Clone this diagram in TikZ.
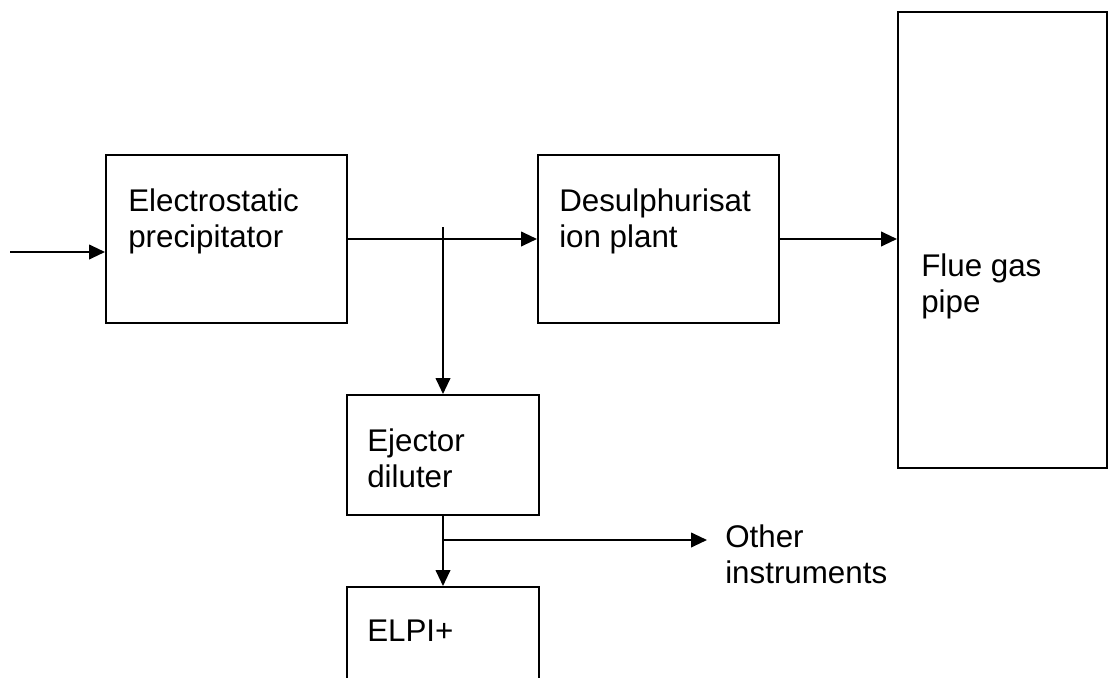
\documentclass[tikz,border=0pt]{standalone}
\usepackage{fontspec}
\setmainfont{Liberation Sans}
\usetikzlibrary{arrows.meta,positioning}
\tikzset{
     unit box/.style = {draw, black, line width=1.5pt, inner sep=0pt},
     box text/.style = {font=\fontsize{23.5}{27}\selectfont, align=left, inner sep=0pt, anchor=north west},
      flow/.style    = {black, line width=1.5pt, -{Triangle[length=12pt,width=11pt]}},
      plain/.style   = {black, line width=1.5pt},
    }

\begin{document}
\begin{tikzpicture}[x=0.75pt,y=-0.75pt]
        \useasboundingbox (0,0) rectangle (1108,678);

        \node [unit box, minimum width=180.75pt, minimum height=126pt] (esp)   at (226.5,239)  {};
        \node [unit box, minimum width=180.75pt, minimum height=126pt] (desul) at (658.5,239)  {};
        \node [unit box, minimum width=156.75pt, minimum height=342pt] (flue)  at (1002.5,240) {};
        \node [unit box, minimum width=144pt, minimum height=90pt]     (ejec)  at (443,455)    {};
        \node [unit box, minimum width=144pt, minimum height=90pt]     (elpi)  at (443,647)    {};

        \node [box text] (espT)   at ([shift={(23,34.5)}]esp.north west)    {Electrostatic\\precipitator};
        \node [box text] (desulT) at ([shift={(22,34.5)}]desul.north west)  {Desulphurisat\\ion plant};
        \node [box text] (flueT)  at ([shift={(24,242.5)}]flue.north west)  {Flue gas\\pipe};
        \node [box text] (ejecT)  at ([shift={(21,34.5)}]ejec.north west)   {Ejector\\diluter};
        \node [box text] (elpiT)  at ([shift={(21,33.5)}]elpi.north west)   {ELPI+};

        \coordinate (in)   at (10,252);
        \coordinate (jtop) at (443,227);
        \coordinate (br)   at (443,540);
        \coordinate (oth)  at (707,540);

        \node [box text] (othT) at ([shift={(18,-15.5)}]oth) {Other\\instruments};

        \draw [flow] (in) -- (in -| esp.west);
        \draw [flow] (esp.east) -- (desul.west);
        \draw [flow] (desul.east) -- (desul.east -| flue.west);
        \draw [flow] (jtop) -- (ejec.north);
        \draw [flow] (ejec.south) -- (elpi.north);
        \draw [flow] (br) -- (oth);
    \end{tikzpicture}
\end{document}
